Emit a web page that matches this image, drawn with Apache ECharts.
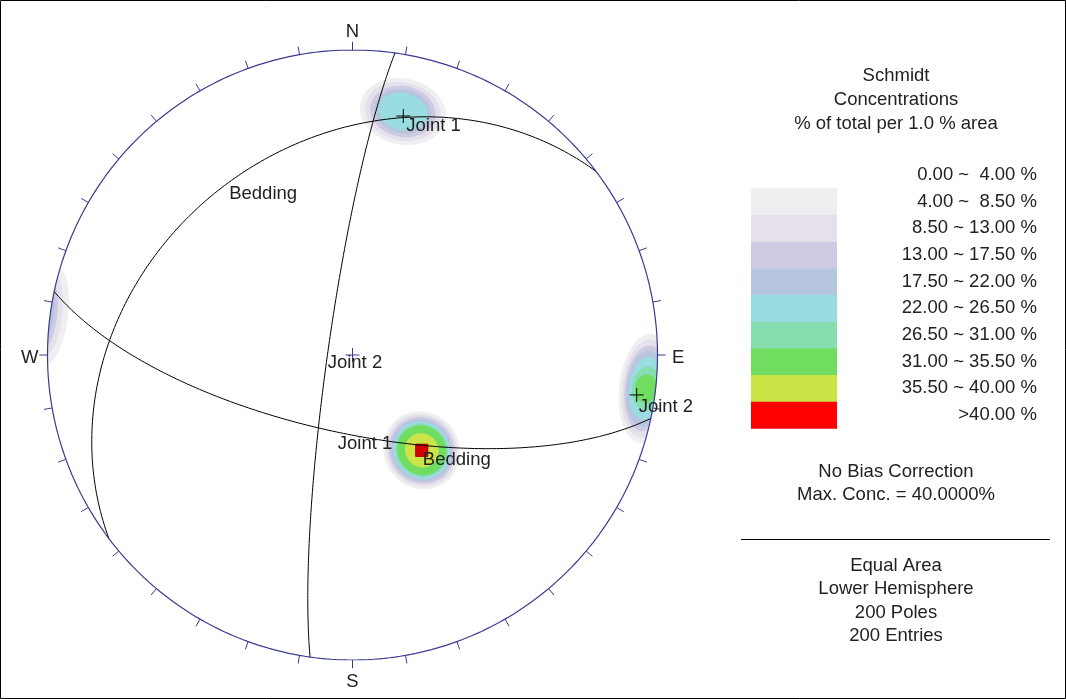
<!DOCTYPE html>
<html><head><meta charset="utf-8">
<script src="https://cdn.jsdelivr.net/npm/echarts@6/dist/echarts.min.js"></script>
<style>html,body{margin:0;padding:0;background:#fff}#c{width:1066px;height:699px}</style>
</head><body><div id="c"></div>
<script>
// ---------------- DATA ----------------
// Planes (dip direction / dip, degrees)
const planeNames = ['Bedding', 'Joint 1', 'Joint 2'];
const planeDipDir = [323, 192, 278];
const planeDip = [31, 69, 83.4];
const planePolePlus = [false, true, true];

// Contour legend
const levelLabels = ['0.00 ~  4.00 %', '4.00 ~  8.50 %', '8.50 ~ 13.00 %', '13.00 ~ 17.50 %', '17.50 ~ 22.00 %',
  '22.00 ~ 26.50 %', '26.50 ~ 31.00 %', '31.00 ~ 35.50 %', '35.50 ~ 40.00 %', '>40.00 %'];
const levelColors = ['#ffffff', '#efeef0', '#e5e0ea', '#cdcae3', '#b6c6de', '#9adde0', '#86ddb0', '#70dc60', '#cbe546', '#ff0000'];

// Concentration clusters: centre trend / plunge and extent per level [level, radial, tangential]
const clusterTrend = [144, 11.7, 96.5, 277.4];
const clusterPlunge = [58.3, 19.6, 3.5, 0];
const clusterLevels = [
  [[1, 0.130, 0.123], [2, 0.121, 0.114], [3, 0.112, 0.106], [4, 0.104, 0.098], [5, 0.096, 0.090], [6, 0.089, 0.084], [7, 0.083, 0.078], [8, 0.057, 0.054], [9, 0.020, 0.020]],
  [[1, 0.108, 0.142], [2, 0.095, 0.125], [3, 0.083, 0.108], [4, 0.072, 0.093], [5, 0.060, 0.080]],
  [[1, 0.0885, 0.180], [2, 0.079, 0.161], [3, 0.0705, 0.141], [4, 0.064, 0.125], [5, 0.056, 0.102], [6, 0.046, 0.072], [7, 0.036, 0.046]],
  [[1, 0.059, 0.164], [2, 0.039, 0.131], [3, 0.023, 0.098], [4, 0.012, 0.070]]
];

const directionNames = ['N', 'E', 'S', 'W'];
const directionAzimuth = [0, 90, 180, 270];
const tickAzimuths = [];
for (let a = 0; a < 360; a += 10) tickAzimuths.push(a);

const titleLines = ['Schmidt', 'Concentrations', '% of total per 1.0 % area'];
const infoLines1 = ['No Bias Correction', 'Max. Conc. = 40.0000%'];
const infoLines2 = ['Equal Area', 'Lower Hemisphere', '200 Poles', '200 Entries'];

// ---------------- HELPERS ----------------
const D2R = Math.PI / 180;
const FONT = '"Liberation Sans", Arial, sans-serif';
const FS = 18.5;
const TXT = '#222';
const PRIM = '#3b3b8f';

function proj(trend, plunge) {
  const t = trend * D2R, p = plunge * D2R;
  const r = Math.sqrt(Math.max(0, 1 - Math.sin(p)));
  return [r * Math.sin(t), r * Math.cos(t)];
}
function greatCircle(dipDir, dip) {
  const s = (dipDir - 90) * D2R, dd = dipDir * D2R, d = dip * D2R;
  const sv = [Math.sin(s), Math.cos(s), 0];
  const dv = [Math.sin(dd) * Math.cos(d), Math.cos(dd) * Math.cos(d), Math.sin(d)];
  const pts = [];
  for (let i = 0; i <= 180; i++) {
    const t = i * D2R;
    const v = [Math.cos(t) * sv[0] + Math.sin(t) * dv[0], Math.cos(t) * sv[1] + Math.sin(t) * dv[1], Math.cos(t) * sv[2] + Math.sin(t) * dv[2]];
    const k = 1 / Math.sqrt(1 + Math.max(0, v[2]));
    pts.push([v[0] * k, v[1] * k]);
  }
  return pts;
}

// ---------------- SERIES ----------------
const series = [];

// contours
const contourItems = [];
clusterLevels.forEach((lv, ci) => lv.forEach(l => contourItems.push([ci, l[0], l[1], l[2]])));
series.push({
  type: 'custom', coordinateSystem: 'cartesian2d', z: 1, silent: true, clip: false,
  data: contourItems,
  renderItem: function (params, api) {
    const ci = api.value(0), li = api.value(1), a = api.value(2), b = api.value(3);
    const c = proj(clusterTrend[ci], clusterPlunge[ci]);
    const color = levelColors[li];
    if (li === 9) {
      const p = api.coord(c), sz = api.size([a, a]);
      return { type: 'rect', shape: { x: p[0] - sz[0], y: p[1] - sz[1], width: 2 * sz[0], height: 2 * sz[1] },
        style: { fill: '#d40000', stroke: '#b00000', lineWidth: 1 } };
    }
    const len = Math.hypot(c[0], c[1]);
    const u = len > 1e-6 ? [c[0] / len, c[1] / len] : [0, 1];
    const v = [-u[1], u[0]];
    const pts = [];
    for (let k = 0; k < 96; k++) {
      const f = k / 96 * 2 * Math.PI;
      let x = c[0] + a * Math.cos(f) * u[0] + b * Math.sin(f) * v[0];
      let y = c[1] + a * Math.cos(f) * u[1] + b * Math.sin(f) * v[1];
      const r = Math.hypot(x, y);
      if (r > 1) { x /= r; y /= r; }
      pts.push(api.coord([x, y]));
    }
    return { type: 'polygon', shape: { points: pts, smooth: 0 }, style: { fill: color, stroke: null } };
  }
});

// great circles
planeNames.forEach((n, i) => {
  series.push({
    type: 'line', name: n, z: 2, silent: true, showSymbol: false, symbol: 'none', smooth: false,
    data: greatCircle(planeDipDir[i], planeDip[i]),
    lineStyle: { color: '#000', width: 1 }
  });
});

// primitive circle
const prim = [];
for (let a = 0; a <= 360; a += 1) prim.push([Math.sin(a * D2R), Math.cos(a * D2R)]);
series.push({ type: 'line', z: 3, silent: true, showSymbol: false, symbol: 'none', data: prim, lineStyle: { color: PRIM, width: 1.2 } });

// ticks + centre cross
series.push({
  type: 'custom', coordinateSystem: 'cartesian2d', z: 3, silent: true, clip: false,
  data: tickAzimuths.map(a => [a]),
  renderItem: function (params, api) {
    const a = api.value(0) * D2R;
    const p1 = api.coord([Math.sin(a), Math.cos(a)]);
    const p2 = api.coord([Math.sin(a) * 1.027, Math.cos(a) * 1.027]);
    return { type: 'line', shape: { x1: p1[0], y1: p1[1], x2: p2[0], y2: p2[1] }, style: { stroke: PRIM, lineWidth: 1 } };
  }
});
series.push({
  type: 'custom', coordinateSystem: 'cartesian2d', z: 3, silent: true, clip: false,
  data: [[0, 0]],
  renderItem: function (params, api) {
    const p = api.coord([api.value(0), api.value(1)]);
    return { type: 'group', children: [
      { type: 'line', shape: { x1: p[0] - 7, y1: p[1], x2: p[0] + 7, y2: p[1] }, style: { stroke: PRIM, lineWidth: 1 } },
      { type: 'line', shape: { x1: p[0], y1: p[1] - 7, x2: p[0], y2: p[1] + 7 }, style: { stroke: PRIM, lineWidth: 1 } }
    ] };
  }
});

// direction labels
const dirOffsets = [[0, -10], [12.5, 2.5], [0, 14], [-9.5, 2.5]];
series.push({
  type: 'custom', coordinateSystem: 'cartesian2d', z: 5, silent: true, clip: false,
  data: directionAzimuth.map((a, i) => [a, i]),
  renderItem: function (params, api) {
    const a = api.value(0) * D2R, i = api.value(1);
    const p = api.coord([Math.sin(a) * 1.027, Math.cos(a) * 1.027]);
    return { type: 'text', x: p[0] + dirOffsets[i][0], y: p[1] + dirOffsets[i][1],
      style: { text: directionNames[i], fill: TXT, fontSize: FS, fontFamily: FONT, align: 'center', verticalAlign: 'middle' } };
  }
});

// poles (plus + label)
const poleLabelOffsets = [[1, 13], [3, 10], [2, 12]];
series.push({
  type: 'custom', coordinateSystem: 'cartesian2d', z: 5, silent: true, clip: false,
  data: planeNames.map((n, i) => [(planeDipDir[i] + 180) % 360, 90 - planeDip[i], i]),
  renderItem: function (params, api) {
    const i = api.value(2);
    const p = api.coord(proj(api.value(0), api.value(1)));
    const ch = [];
    if (planePolePlus[i]) {
      ch.push({ type: 'line', shape: { x1: p[0] - 7, y1: p[1], x2: p[0] + 7, y2: p[1] }, style: { stroke: '#000', lineWidth: 1 } });
      ch.push({ type: 'line', shape: { x1: p[0], y1: p[1] - 7, x2: p[0], y2: p[1] + 7 }, style: { stroke: '#000', lineWidth: 1 } });
    }
    ch.push({ type: 'text', x: p[0] + poleLabelOffsets[i][0], y: p[1] + poleLabelOffsets[i][1],
      style: { text: planeNames[i], fill: TXT, fontSize: FS, fontFamily: FONT, align: 'left', verticalAlign: 'middle' } });
    return { type: 'group', children: ch };
  }
});

// plane labels
const planeLabelPos = [[-0.293, 0.528], [0.041, -0.292], [0.008, -0.026]];
series.push({
  type: 'custom', coordinateSystem: 'cartesian2d', z: 5, silent: true, clip: false,
  data: planeNames.map((n, i) => [planeLabelPos[i][0], planeLabelPos[i][1], i]),
  renderItem: function (params, api) {
    const p = api.coord([api.value(0), api.value(1)]);
    return { type: 'text', x: p[0], y: p[1],
      style: { text: planeNames[api.value(2)], fill: TXT, fontSize: FS, fontFamily: FONT, align: 'center', verticalAlign: 'middle' } };
  }
});

// ---------------- GRAPHIC (legend & info) ----------------
const graphic = [];
graphic.push({ type: 'rect', shape: { x: 0.5, y: 0.5, width: 1065, height: 698 }, style: { fill: null, stroke: '#000', lineWidth: 1 }, z: 10, silent: true });
const CX = 896;
titleLines.forEach((t, i) => graphic.push({ type: 'text', x: CX, y: 76 + i * 24,
  style: { text: t, fill: TXT, fontSize: FS, fontFamily: FONT, align: 'center', verticalAlign: 'middle' } }));
const rowH = 26.67, row0 = 175;
levelLabels.forEach((t, i) => {
  graphic.push({ type: 'text', x: 1037, y: row0 + i * rowH,
    style: { text: t, fill: TXT, fontSize: FS, fontFamily: FONT, align: 'right', verticalAlign: 'middle' } });
  if (i > 0) graphic.push({ type: 'rect', shape: { x: 751, y: row0 + i * rowH - rowH / 2, width: 86, height: rowH + 0.5 },
    style: { fill: levelColors[i], stroke: null } });
});
infoLines1.forEach((t, i) => graphic.push({ type: 'text', x: CX, y: 472 + i * 22.5,
  style: { text: t, fill: TXT, fontSize: FS, fontFamily: FONT, align: 'center', verticalAlign: 'middle' } }));
graphic.push({ type: 'line', shape: { x1: 741, y1: 539.5, x2: 1050, y2: 539.5 }, style: { stroke: '#000', lineWidth: 1 } });
infoLines2.forEach((t, i) => graphic.push({ type: 'text', x: CX, y: 566 + i * 23.3,
  style: { text: t, fill: TXT, fontSize: FS, fontFamily: FONT, align: 'center', verticalAlign: 'middle' } }));

const chart = echarts.init(document.getElementById('c'), null, { renderer: 'canvas' });
chart.setOption({
  animation: false,
  backgroundColor: '#fff',
  textStyle: { fontFamily: FONT },
  grid: { left: 47.5, top: 50, width: 610, height: 610 },
  xAxis: { type: 'value', min: -1, max: 1, show: false },
  yAxis: { type: 'value', min: -1, max: 1, show: false },
  series: series,
  graphic: graphic
});
</script></body></html>
